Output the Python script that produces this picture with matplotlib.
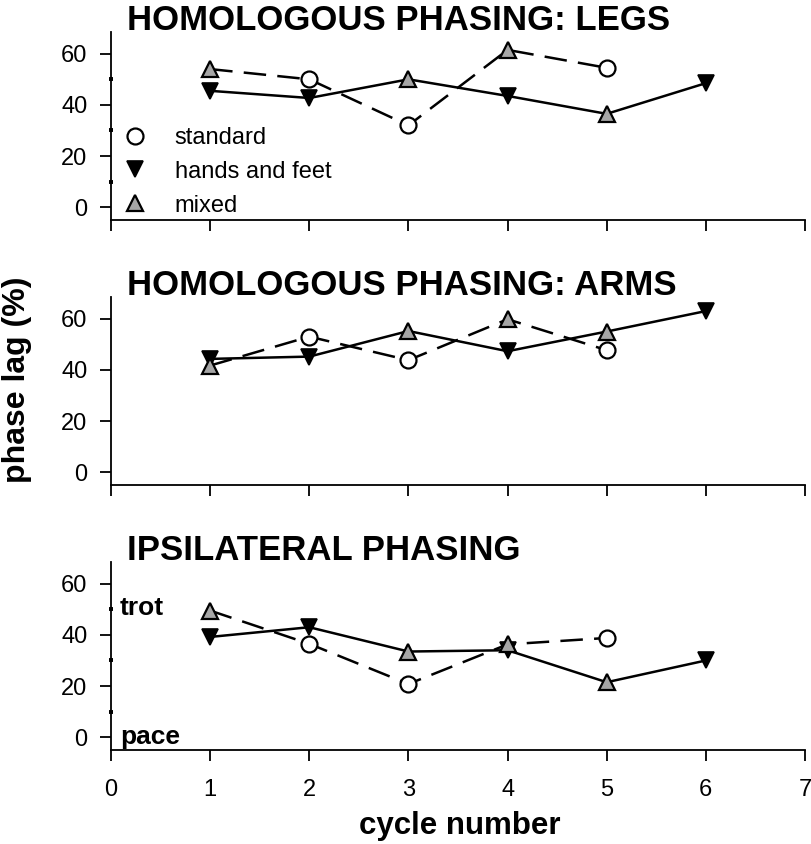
import matplotlib
matplotlib.use("Agg")
import matplotlib.pyplot as plt
from matplotlib.lines import Line2D
from matplotlib.ticker import FixedLocator

plt.rcParams['font.family'] = ['Liberation Sans', 'DejaVu Sans']

# cycle numbers and marker kind of each point (same subject sequence in all panels)
dashed_cycles = [1, 2, 3, 4, 5]
solid_cycles = [1, 2, 3, 4, 5, 6]
dashed_kind = ['mixed', 'standard', 'standard', 'mixed', 'standard']
solid_kind = ['hands', 'hands', 'mixed', 'hands', 'mixed', 'hands']

legs_dashed = [54, 50, 32, 61.5, 54.5]
legs_solid = [45.5, 42.7, 50, 43.5, 36.5, 48.5]
arms_dashed = [41.7, 53, 43.8, 59.8, 47.7]
arms_solid = [44.3, 45.2, 55.2, 47.3, 55, 63]
ipsi_dashed = [49.5, 36.5, 20.8, 36.3, 38.8]
ipsi_solid = [39.2, 43, 33.5, 34, 21.5, 30]

titles = ["HOMOLOGOUS PHASING: LEGS", "HOMOLOGOUS PHASING: ARMS", "IPSILATERAL PHASING"]
yticks = [0, 20, 40, 60]
xticks = [0, 1, 2, 3, 4, 5, 6, 7]
legend_labels = {'standard': 'standard', 'hands': 'hands and feet', 'mixed': 'mixed'}

styles = {
    'standard': dict(marker='o', mfc='white', mec='black', ms=11.5, mew=1.6),
    'hands': dict(marker='v', mfc='black', mec='black', ms=12, mew=1.2),
    'mixed': dict(marker='^', mfc='#a6a6a6', mec='black', ms=12, mew=1.6),
}

fig = plt.figure(figsize=(8.12, 8.44), dpi=100)
W, H = 812, 844
left, right = 111, 805
panels = [
    (legs_dashed, legs_solid, 220, True),
    (arms_dashed, arms_solid, 485, False),
    (ipsi_dashed, ipsi_solid, 750, True),
]
axes = []
for i, (dvals, svals, bottom_px, dots) in enumerate(panels):
    ax = fig.add_axes([left / W, (H - bottom_px) / H, (right - left) / W, 188 / H])
    axes.append(ax)
    ax.plot(dashed_cycles, dvals, color='black', lw=1.8, ls=(0, (9, 4.5)), zorder=2)
    ax.plot(solid_cycles, svals, color='black', lw=1.8, zorder=2)
    for xs, ys, kinds in [(solid_cycles, svals, solid_kind), (dashed_cycles, dvals, dashed_kind)]:
        for kind in ['hands', 'mixed', 'standard']:
            px = [x for x, k in zip(xs, kinds) if k == kind]
            py = [y for y, k in zip(ys, kinds) if k == kind]
            ax.plot(px, py, ls='none', zorder=3, clip_on=False, **styles[kind])
    ax.set_xlim(0, 7)
    ax.set_ylim(-5, 68.5)
    ax.spines['top'].set_visible(False)
    ax.spines['right'].set_visible(False)
    for s in ['left', 'bottom']:
        ax.spines[s].set_linewidth(1.3)
    ax.set_xticks(xticks)
    ax.set_yticks(yticks)
    ax.tick_params(axis='both', which='major', direction='out', length=8, width=1.3,
                   labelsize=17, pad=9)
    ax.tick_params(axis='x', pad=13)
    if i < 2:
        ax.tick_params(axis='x', labelbottom=False)
    if dots:
        ax.yaxis.set_minor_locator(FixedLocator([10, 30, 50]))
        ax.tick_params(axis='y', which='minor', direction='inout', length=3.5, width=2.8)
    ax.text(0.023, 1.012, titles[i], transform=ax.transAxes, fontsize=25,
            fontweight='bold', ha='left', va='baseline')

# legend in the top panel
handles = [Line2D([], [], ls='none', **styles[k]) for k in ['standard', 'hands', 'mixed']]
axes[0].legend(handles, [legend_labels[k] for k in ['standard', 'hands', 'mixed']],
               loc='upper left', bbox_to_anchor=(0.017, 0.495), frameon=False,
               fontsize=17, handlelength=1.0, handletextpad=1.2, labelspacing=0.5,
               borderpad=0, borderaxespad=0)

# gait labels in the bottom panel
axes[2].text(0.09, 47.6, "trot", fontsize=19, fontweight='bold', va='baseline')
axes[2].text(0.09, -2.7, "pace", fontsize=19, fontweight='bold', va='baseline')

fig.text(0.021, 0.55, "phase lag (%)", rotation=90, fontsize=23, fontweight='bold',
         ha='center', va='center')
fig.text(0.566, 0.021, "cycle number", fontsize=22.5, fontweight='bold',
         ha='center', va='center')

fig.savefig("out.png", dpi=100)
